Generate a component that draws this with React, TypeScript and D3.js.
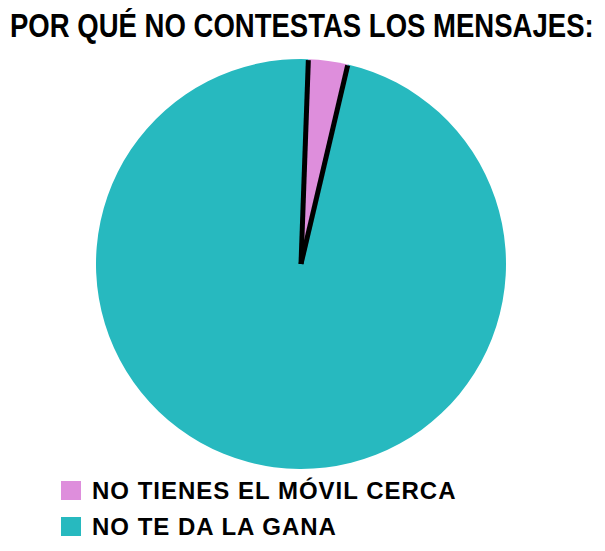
import { useRef, useEffect } from "react";
import * as d3 from "d3";

const categories = ["NO TIENES EL MÓVIL CERCA", "NO TE DA LA GANA"];
const values = [3.1, 96.9];
const colors = ["#DE8EDC", "#27B9BF"];
const title = "POR QUÉ NO CONTESTAS LOS MENSAJES:";

export default function App() {
  const svgRef = useRef<SVGSVGElement>(null);

  useEffect(() => {
    if (!svgRef.current) return;
    const svg = d3.select(svgRef.current);
    svg.selectAll("*").remove();

    const width = 605;
    const height = 551;
    const cx = 301;
    const cy = 264;
    const radius = 205;
    const font = "'Liberation Sans', Arial, sans-serif";

    svg.append("rect").attr("width", width).attr("height", height).attr("fill", "#fff");

    // Title: condensed bold, scaled horizontally to span the width
    const titleG = svg.append("g");
    const titleText = titleG.append("text")
      .attr("font-family", font)
      .attr("font-weight", "bold")
      .attr("font-size", 34)
      .attr("fill", "#000")
      .text(title);
    const natural = (titleText.node() as SVGTextElement).getComputedTextLength() || 680;
    titleG.attr("transform", `translate(10,37) scale(${584 / natural},1)`);

    const start = 0.036;
    const pie = d3.pie<number>().sort(null).startAngle(start).endAngle(start + 2 * Math.PI);
    const arcs = pie(values);
    const arc = d3.arc<d3.PieArcDatum<number>>().innerRadius(0).outerRadius(radius);

    const g = svg.append("g").attr("transform", `translate(${cx},${cy})`);

    g.selectAll("path")
      .data(arcs)
      .enter()
      .append("path")
      .attr("d", arc)
      .attr("fill", (_, i) => colors[i]);

    // black edges of the small slice
    const small = arcs[0];
    [small.startAngle, small.endAngle].forEach((a) => {
      const [x, y] = d3.pointRadial(a, radius - 1);
      g.append("line")
        .attr("x1", 0)
        .attr("y1", 0)
        .attr("x2", x)
        .attr("y2", y)
        .attr("stroke", "#000")
        .attr("stroke-width", 5);
    });

    // Legend
    const legend = svg.append("g").attr("transform", "translate(61,481)");
    categories.forEach((c, i) => {
      const row = legend.append("g").attr("transform", `translate(0,${i * 36})`);
      row.append("rect")
        .attr("width", 20)
        .attr("height", 19)
        .attr("fill", colors[i]);
      row.append("text")
        .attr("x", 31)
        .attr("y", 18)
        .attr("font-family", font)
        .attr("font-weight", "bold")
        .attr("font-size", 24)
        .attr("letter-spacing", 1)
        .attr("fill", "#000")
        .text(c);
    });
  }, []);

  return <svg ref={svgRef} width={605} height={551} style={{ display: "block", margin: -8 }} />;
}
